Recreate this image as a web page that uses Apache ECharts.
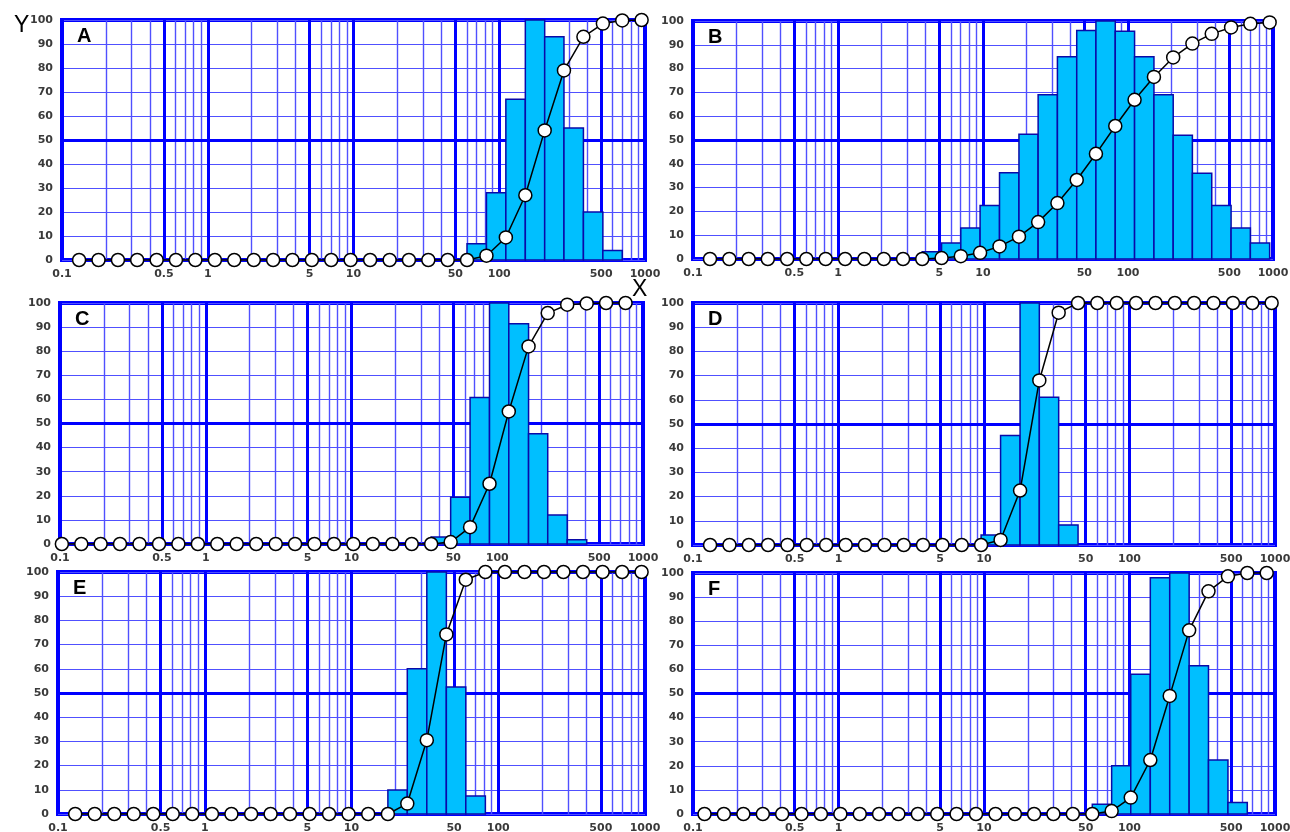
<!DOCTYPE html>
<html><head><meta charset="utf-8">
<script src="https://cdn.jsdelivr.net/npm/echarts@6/dist/echarts.min.js"></script>
<style>html,body{margin:0;padding:0;background:#fff}#c{width:1290px;height:832px}</style>
</head><body><div id="c"></div>
<script>
// Particle size (µm) of each point (log axis 0.1 – 1000)
const sizesStd = [0.131,0.178,0.242,0.328,0.446,0.605,0.822,1.12,1.52,2.07,2.81,3.81,5.18,7.03,9.55,13.0,17.7,24.0,32.6,44.3,60.1,81.7,111,151,205,278,378,514,698,948];
const sizesC   = [0.103,0.140,0.190,0.258,0.351,0.478,0.649,0.883,1.20,1.63,2.22,3.02,4.10,5.57,7.58,10.3,14.0,19.1,25.9,35.2,47.9,65.1,88.5,120,164,222,302,411,558,759];
const sizesF   = [0.120,0.163,0.222,0.302,0.410,0.557,0.757,1.03,1.40,1.90,2.58,3.51,4.77,6.48,8.81,12.0,16.3,22.1,30.0,40.8,55.5,75.4,102,139,189,257,349,475,645,877];

// Histogram height of the bin ending at each point (normalised, max = 100)
const freqA = [0,0,0,0,0,0,0,0,0,0,0,0,0,0,0,0,0,0,0,0,0,6.8,28,67,100,93,55,20,4,0];
const freqB = [0,0,0,0,0,0,0,0,0,0,0,0,3,6.7,13,22.5,36.2,52.4,69,85,96,100,95.7,85,69,52,36,22.5,13,6.7];
const freqC = [0,0,0,0,0,0,0,0,0,0,0,0,0,0,0,0,0,0,0,0,2.9,19.4,60.8,100,91.4,45.7,12,1.8,0,0];
const freqD = [0,0,0,0,0,0,0,0,0,0,0,0,0,0,0,4.1,45.2,100,61.1,8.3,0,0,0,0,0,0,0,0,0,0];
const freqE = [0,0,0,0,0,0,0,0,0,0,0,0,0,0,0,0,0,9.9,60,100,52.5,7.4,0,0,0,0,0,0,0,0];
const freqF = [0,0,0,0,0,0,0,0,0,0,0,0,0,0,0,0,0,0,0,0,0,4,20,58,98,100,61.5,22.4,4.8,0];

// Cumulative percentage at each point
const cumA = [0,0,0,0,0,0,0,0,0,0,0,0,0,0,0,0,0,0,0,0,0,1.8,9.4,27,54,79,93,98.5,99.8,100];
const cumB = [0,0,0,0,0,0,0,0,0,0,0,0,0.4,1.2,2.6,5.3,9.4,15.5,23.5,33.2,44.2,55.9,66.9,76.5,84.7,90.5,94.6,97.3,98.8,99.4];
const cumC = [0,0,0,0,0,0,0,0,0,0,0,0,0,0,0,0,0,0,0,0,0.8,7,25,55,82,95.8,99.3,99.8,100,100];
const cumD = [0,0,0,0,0,0,0,0,0,0,0,0,0,0,0,2.1,22.5,68,96,100,100,100,100,100,100,100,100,100,100,100];
const cumE = [0,0,0,0,0,0,0,0,0,0,0,0,0,0,0,0,0,4.3,30.5,74.2,96.8,100,100,100,100,100,100,100,100,100];
const cumF = [0,0,0,0,0,0,0,0,0,0,0,0,0,0,0,0,0,0,0,0,0,1.2,6.8,22.4,49,76.2,92.4,98.6,100,100];

const panelNames = ['A','B','C','D','E','F'];
const xTickLabels = ['0.1','0.5','1','5','10','50','100','500','1000'];

const panelData = [
  {sizes: sizesStd, freq: freqA, cum: cumA},
  {sizes: sizesStd, freq: freqB, cum: cumB},
  {sizes: sizesC,   freq: freqC, cum: cumC},
  {sizes: sizesStd, freq: freqD, cum: cumD},
  {sizes: sizesStd, freq: freqE, cum: cumE},
  {sizes: sizesF,   freq: freqF, cum: cumF}
];

// layout (pixels): left, top, width, height
const layout = [
  [62, 20, 583, 240],
  [693, 21, 580, 238],
  [60, 303, 583, 241],
  [693, 303, 582, 242],
  [58, 572, 587, 242],
  [693, 573, 582, 241]
];

const BLUE = '#0000ff';
const MINOR = '#5050ff';
const labelFont = {fontSize: 11, fontWeight: 'bold', color: '#3a3a3a', fontFamily: 'DejaVu Sans'};

// vertical grid positions on the log axis
const vGrid = [];
[0.1, 1, 10, 100].forEach(d => {
  for (let m = 1; m <= 9; m++) vGrid.push({v: +(d * m).toPrecision(3), major: m === 1 || m === 5});
});
vGrid.push({v: 1000, major: true});

const grid = [], xAxis = [], yAxis = [], series = [], graphic = [];

panelData.forEach((p, i) => {
  const b = layout[i];
  grid.push({left: b[0], top: b[1], width: b[2], height: b[3], show: true,
    borderColor: BLUE, borderWidth: 4, backgroundColor: '#fff'});
  xAxis.push({type: 'log', logBase: 10, gridIndex: i, min: 0.1, max: 1000,
    axisLine: {show: false}, axisTick: {show: false}, axisLabel: {show: false}, splitLine: {show: false}});
  yAxis.push({type: 'value', gridIndex: i, min: 0, max: 100, interval: 10,
    axisLine: {show: false}, axisTick: {show: false},
    axisLabel: Object.assign({margin: 9}, labelFont),
    splitLine: {lineStyle: {color: MINOR, width: 1.2}}});

  const mlData = vGrid.map(g => {
    const txt = String(g.v);
    const labeled = xTickLabels.indexOf(txt) >= 0;
    const edge = g.v === 0.1 || g.v === 1000;
    return {
      xAxis: g.v,
      lineStyle: {color: g.major || edge ? BLUE : MINOR, width: edge ? 4 : (g.major ? 3 : 1.4), type: 'solid'},
      label: Object.assign({show: labeled, formatter: txt, position: 'start', distance: 9}, labelFont)
    };
  });
  mlData.push({yAxis: 50, lineStyle: {color: BLUE, width: 3, type: 'solid'}, label: {show: false}});

  const bars = [];
  for (let k = 1; k < p.sizes.length; k++) {
    if (p.freq[k] > 0) bars.push([p.sizes[k - 1], p.sizes[k], p.freq[k]]);
  }

  series.push({
    type: 'custom', xAxisIndex: i, yAxisIndex: i, z: 3, clip: false,
    data: bars, encode: {x: [0, 1], y: 2},
    renderItem: (params, api) => {
      const a = api.coord([api.value(0), api.value(2)]);
      const c = api.coord([api.value(1), 0]);
      return {type: 'rect', shape: {x: a[0], y: a[1], width: c[0] - a[0], height: c[1] - a[1]},
        style: {fill: '#00bfff', stroke: '#0a0aa8', lineWidth: 1.5}};
    },
    markLine: {silent: true, symbol: 'none', z: 1, animation: false, data: mlData}
  });

  series.push({
    type: 'line', xAxisIndex: i, yAxisIndex: i, z: 4, clip: false,
    data: p.sizes.map((s, k) => [s, p.cum[k]]),
    symbol: 'circle', symbolSize: 13, showSymbol: true,
    itemStyle: {color: '#fff', borderColor: '#000', borderWidth: 1.5},
    lineStyle: {color: '#000', width: 1.5}
  });

  graphic.push({type: 'text', left: b[0] + 15, top: b[1] + 6, z: 10,
    style: {text: panelNames[i], fontSize: 20, fontWeight: 'bold', fontFamily: 'Liberation Sans', fill: '#000'}});
});

graphic.push({type: 'text', left: 14, top: 14, z: 10, style: {text: 'Y', fontSize: 23, fontFamily: 'Liberation Sans', fill: '#000'}});
graphic.push({type: 'text', left: 632, top: 278, z: 10, style: {text: 'X', fontSize: 23, fontFamily: 'Liberation Sans', fill: '#000'}});

const chart = echarts.init(document.getElementById('c'), null, {renderer: 'canvas'});
chart.setOption({animation: false, backgroundColor: '#fff', grid, xAxis, yAxis, series, graphic});
</script></body></html>
